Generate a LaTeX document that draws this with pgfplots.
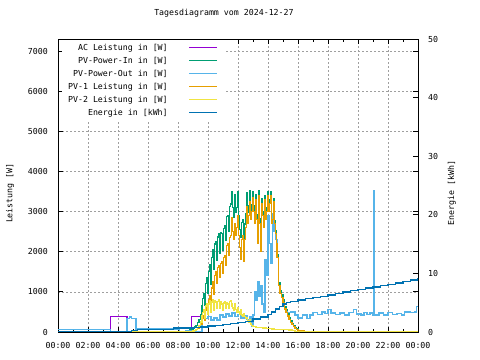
\documentclass[border=0pt]{standalone}
\usepackage{pgfplots}
\pgfplotsset{compat=1.18}
\usepackage{pgfplotstable}
\usepackage{fontspec}
\setmainfont{DejaVu Sans Mono}
\definecolor{cac}{HTML}{9400D3}
\definecolor{cin}{HTML}{009E73}
\definecolor{cout}{HTML}{56B4E9}
\definecolor{cpvone}{HTML}{E69F00}
\definecolor{cpvtwo}{HTML}{F0E442}
\definecolor{cen}{HTML}{0072B2}

\pgfplotstableread{
t ac out
0 65 65
3.5 380 0
4.6 330 330
4.75 370 370
4.9 340 340
5.2 75 75
7.7 60 60
8.1 0 0
8.5 40 40
8.9 380 0
9.6 400 400
9.8 330 330
10.0 380 380
10.2 300 300
10.4 350 350
10.6 300 300
10.8 420 420
11.0 370 370
11.2 450 450
11.4 400 400
11.6 470 470
11.8 380 380
12.0 430 430
12.2 350 350
12.4 400 400
12.6 320 320
12.8 380 380
12.9 150 150
13.0 420 420
13.1 1000 1000
13.2 800 800
13.3 1250 1250
13.4 900 900
13.5 1150 1150
13.6 700 700
13.7 500 500
13.8 1800 1800
13.9 1400 1400
14.0 2900 2900
14.1 2200 2200
14.2 1700 1700
14.3 2950 2950
14.4 2500 2500
14.5 2300 2300
14.6 1850 1850
14.7 1150 1150
14.8 960 960
14.9 860 860
15.0 740 740
15.1 570 570
15.2 500 500
15.3 480 480
15.5 500 500
15.8 420 420
16.0 350 350
16.3 420 420
16.6 340 340
16.8 420 420
17.0 480 480
17.3 430 430
17.6 500 500
17.8 460 460
18.0 560 560
18.2 470 470
18.5 430 430
18.8 470 470
19.1 420 420
19.4 480 480
19.7 560 560
19.9 450 450
20.2 420 420
20.4 480 480
20.6 430 430
20.8 470 470
21.0 420 420
21.05 3520 3520
21.1 420 420
21.4 470 470
21.7 420 420
22.0 480 480
22.3 430 430
22.6 460 460
22.9 420 420
23.1 500 500
23.5 480 480
23.8 500 500
23.9 630 630
24.0 630 630
}\tabout

\pgfplotstableread{
t pin pv1 pv2
0 0 0 0
8.5 0 0 0
8.6 15 0 0
8.7 30 5 0
8.8 50 10 5
8.9 70 15 15
9.0 90 25 25
9.1 130 40 45
9.2 170 60 70
9.3 230 90 110
9.4 310 130 160
9.5 440 180 250
9.60 660 250 400
9.65 840 350 480
9.70 960 400 550
9.75 710 280 420
9.80 660 300 350
9.85 1210 550 650
9.90 1360 650 700
9.95 960 450 500
10.00 960 500 450
10.05 1510 800 700
10.10 1690 900 780
10.15 1180 650 520
10.20 1210 700 500
10.25 1860 1100 750
10.30 2060 1250 800
10.35 1560 950 600
10.40 1560 1000 550
10.45 2190 1400 780
10.50 2260 1500 750
10.55 1790 1200 580
10.60 1910 1300 600
10.65 2370 1600 760
10.70 2460 1650 800
10.75 1960 1350 600
10.80 2060 1400 650
10.85 2470 1700 760
10.90 2460 1750 700
10.95 2040 1450 580
11.00 2060 1500 550
11.05 2580 1850 720
11.10 2660 1900 750
11.15 2280 1650 620
11.20 2310 1700 600
11.25 2880 2150 720
11.30 2910 2200 700
11.35 2510 1900 600
11.40 2630 2000 620
11.45 3120 2350 760
11.50 3190 2400 780
11.55 3310 2600 700
11.60 3500 2850 650
11.65 3110 2500 600
11.70 2860 2300 550
11.75 3340 2650 680
11.80 3420 2700 700
11.85 2970 2400 560
11.90 3110 2600 500
11.95 3490 2900 580
12.00 3420 2820 600
12.05 2910 2400 500
12.10 2560 2100 450
12.15 2430 1900 520
12.20 2360 1800 550
12.25 2730 2300 420
12.30 2810 2400 400
12.35 2350 1900 440
12.40 2210 1750 450
12.45 2690 2300 380
12.50 2940 2600 330
12.55 3350 3000 340
12.60 3480 3130 350
12.65 2990 2700 280
12.70 3160 2900 250
12.75 3510 3250 250
12.80 3520 3220 300
12.85 3010 2800 200
12.90 3180 3000 170
12.95 3470 3300 160
13.00 3490 3340 150
13.05 3150 3000 140
13.10 2840 2700 130
13.15 3230 3100 125
13.20 3420 3290 120
13.25 2930 2800 120
13.30 2330 2200 120
13.35 3120 3000 118
13.40 3510 3390 115
13.45 2820 2700 112
13.50 2120 2000 110
13.55 3020 2900 108
13.60 3310 3200 105
13.65 3010 2900 102
13.70 2710 2600 100
13.75 3210 3100 100
13.80 3400 3300 100
13.85 2900 2800 98
13.90 3100 3000 95
13.95 3450 3350 92
14.00 3500 3400 90
14.05 3090 3000 88
14.10 3290 3200 85
14.15 3490 3400 82
14.20 3390 3300 80
14.25 2780 2700 78
14.30 2880 2800 75
14.35 3330 3250 72
14.40 3180 3100 70
14.45 2770 2700 68
14.50 2520 2450 65
14.55 2270 2200 65
14.60 1920 1850 65
14.7 1220 1150 65
14.8 1030 960 60
14.9 920 860 60
15.0 800 740 60
15.1 630 570 60
15.2 550 490 55
15.3 450 400 55
15.4 360 310 50
15.5 280 230 50
15.6 220 180 40
15.7 160 130 30
15.8 110 90 20
15.9 75 60 15
16.0 45 35 10
16.2 35 25 10
16.4 20 12 5
16.6 8 5 0
16.8 0 0 0
24 0 0 0
}\tabpv

\pgfplotstableread{
t e
0 0.0
2.3 0.12
4.9 0.3
5.3 0.45
7.7 0.7
9.0 0.8
9.5 0.85
10.0 1.0
10.5 1.1
11.0 1.25
11.5 1.4
12.0 1.6
12.5 1.85
13.0 2.2
13.5 2.55
14.0 3.0
14.25 3.4
14.5 3.9
14.75 4.4
15.0 4.8
15.25 5.0
15.5 5.15
16.0 5.45
16.5 5.7
17.0 5.9
17.5 6.1
18.0 6.3
18.5 6.55
19.0 6.85
19.5 7.1
20.0 7.3
20.5 7.5
21.0 7.7
21.5 7.9
22.0 8.1
22.5 8.35
23.0 8.6
23.5 8.85
24.0 9.15
}\taben

\begin{document}
\begin{tikzpicture}[font=\fontsize{8.3}{10}\selectfont]
\useasboundingbox (0,0) rectangle (480bp,360bp);
\begin{axis}[
  at={(58bp,28bp)}, anchor=south west, scale only axis,
  width=360bp, height=293bp,
  xmin=0, xmax=24, ymin=0, ymax=7300,
  xtick={0,2,...,24},
  xticklabels={00:00,02:00,04:00,06:00,08:00,10:00,12:00,14:00,16:00,18:00,20:00,22:00,00:00},
  minor x tick num=1,
  ytick={0,1000,...,7000},
  tick align=inside,
  major tick length=5bp, minor tick length=3bp,
  tick style={black, line width=0.8bp},
  axis line style={black, line width=0.8bp},
  grid=major,
  major grid style={dash pattern=on 2bp off 2bp, gray!75, line width=0.6bp},
  /pgf/number format/.cd, 1000 sep={}, assume math mode=true, /pgfplots/.cd,
  xticklabel style={anchor=center, yshift=-13bp, inner sep=0pt},
  yticklabel style={anchor=east, inner sep=0pt, xshift=-10bp},
  ylabel={Leistung [W]},
  ylabel style={at={(axis description cs:-0.133,0.474)}, anchor=center},
  title={Tagesdiagramm vom 2024-12-27},
  title style={at={(axis description cs:0.461,1.068)}, anchor=center, inner sep=0pt},
  legend plot pos=right,
  legend cell align=right,
  legend image code/.code={\draw[line width=1.3bp, #1] (0bp,0bp) -- (28bp,0bp);},
  legend style={draw=none, fill=white, inner xsep=6bp, inner ysep=3.5bp, outer sep=0pt,
    at={(axis description cs:0.4611,0.998)}, anchor=north east,
    row sep=4bp, column sep=21bp,
    nodes={inner sep=0pt, text height=7bp, text depth=2bp}},
]
\addplot[cac, line width=1.3bp, const plot, forget plot] table[x=t, y=ac] {\tabout};
\addplot[cin, line width=1.3bp, const plot, forget plot] table[x=t, y=pin] {\tabpv};
\addplot[cout, line width=1.3bp, const plot, forget plot] table[x=t, y=out] {\tabout};
\addplot[cpvone, line width=1.3bp, const plot, forget plot] table[x=t, y=pv1] {\tabpv};
\addplot[cpvtwo, line width=1.3bp, const plot, forget plot] table[x=t, y=pv2] {\tabpv};
\addlegendimage{draw=cac}
\addlegendentry{AC Leistung in [W]}
\addlegendimage{draw=cin}
\addlegendentry{PV-Power-In in [W]}
\addlegendimage{draw=cout}
\addlegendentry{PV-Power-Out in [W]}
\addlegendimage{draw=cpvone}
\addlegendentry{PV-1 Leistung in [W]}
\addlegendimage{draw=cpvtwo}
\addlegendentry{PV-2 Leistung in [W]}
\addlegendimage{draw=cen}
\addlegendentry{Energie in [kWh]}
\end{axis}
\begin{axis}[
  at={(58bp,28bp)}, anchor=south west, scale only axis,
  width=360bp, height=293bp,
  xmin=0, xmax=24, ymin=0, ymax=50,
  axis x line=none, axis y line*=right,
  ytick={0,10,...,50},
  tick align=inside,
  major tick length=5bp,
  tick style={black, line width=0.8bp},
  axis line style={black, line width=0.8bp},
  /pgf/number format/.cd, assume math mode=true, /pgfplots/.cd,
  yticklabel style={anchor=west, inner sep=0pt, xshift=10bp},
  ylabel={Energie [kWh]},
  ylabel style={at={(axis description cs:1.094,0.474)}, anchor=center, rotate=0},
]
\addplot[cen, line width=1.3bp, const plot] table[x=t, y=e] {\taben};
\end{axis}
\end{tikzpicture}
\end{document}
